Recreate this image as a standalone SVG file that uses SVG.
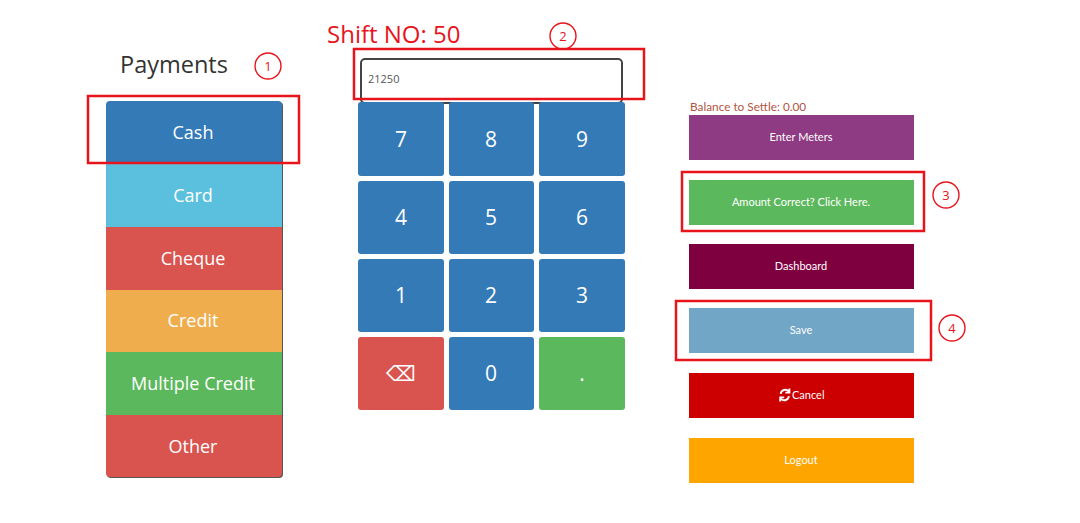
<svg xmlns="http://www.w3.org/2000/svg" width="1080" height="523" viewBox="0 0 1080 523">
<style>
.pay{font-family:"Open Sans","Noto Sans",sans-serif;font-size:18px;fill:#fff;text-anchor:middle}
.key{font-family:"Open Sans","Noto Sans",sans-serif;font-size:21px;fill:#fff;text-anchor:middle}
.btn{font-family:Lato,"Open Sans",sans-serif;font-size:11px;fill:#fff;text-anchor:middle}
.hl{fill:none;stroke:#e8141c;stroke-width:2.5}
.badge circle{fill:none;stroke:#e8141c;stroke-width:1.4}
.badge text{font-family:"Open Sans",sans-serif;font-size:13px;fill:#e8141c;text-anchor:middle}
.kp{rx:3;ry:3}
</style>
<defs>
<clipPath id="payclip"><rect x="106" y="101" width="176" height="376" rx="4"/></clipPath>
</defs>
<rect width="1080" height="523" fill="#fff"/>

<g id="title">
<text x="174" y="73" font-family="'Open Sans','Noto Sans',sans-serif" font-size="23.5" fill="#333" text-anchor="middle">Payments</text>
<text x="327" y="43" font-family="'Open Sans','Noto Sans',sans-serif" font-size="24" fill="#e8141c">Shift NO: 50</text>
</g>

<g id="payments">
<rect x="107" y="102" width="176" height="376" rx="4" fill="#555"/>
<g clip-path="url(#payclip)">
<g id="cash"><rect x="106" y="101" width="176" height="63" fill="#337ab7"/><text class="pay" x="193" y="139">Cash</text></g>
<g id="card"><rect x="106" y="164" width="176" height="63" fill="#5bc0de"/><text class="pay" x="193" y="202">Card</text></g>
<g id="cheque"><rect x="106" y="227" width="176" height="63" fill="#d9534f"/><text class="pay" x="193" y="265">Cheque</text></g>
<g id="credit"><rect x="106" y="290" width="176" height="62" fill="#f0ad4e"/><text class="pay" x="193" y="327">Credit</text></g>
<g id="multiple-credit"><rect x="106" y="352" width="176" height="63" fill="#5cb85c"/><text class="pay" x="193" y="390">Multiple Credit</text></g>
<g id="other"><rect x="106" y="415" width="176" height="62" fill="#d9534f"/><text class="pay" x="193" y="453">Other</text></g>
</g>
</g>

<g id="input">
<rect x="361" y="59" width="261" height="44" rx="4" fill="#fff" stroke="#444" stroke-width="2"/>
<text x="368" y="83" font-family="'Open Sans',sans-serif" font-size="11" fill="#555">21250</text>
</g>

<g id="keypad">
<g id="k7"><rect class="kp" x="358" y="102" width="86" height="74" fill="#337ab7"/><text class="key" x="401" y="147">7</text></g>
<g id="k8"><rect class="kp" x="449" y="102" width="85" height="74" fill="#337ab7"/><text class="key" x="491" y="147">8</text></g>
<g id="k9"><rect class="kp" x="539" y="102" width="86" height="74" fill="#337ab7"/><text class="key" x="582" y="147">9</text></g>
<g id="k4"><rect class="kp" x="358" y="181" width="86" height="73" fill="#337ab7"/><text class="key" x="401" y="225">4</text></g>
<g id="k5"><rect class="kp" x="449" y="181" width="85" height="73" fill="#337ab7"/><text class="key" x="491" y="225">5</text></g>
<g id="k6"><rect class="kp" x="539" y="181" width="86" height="73" fill="#337ab7"/><text class="key" x="582" y="225">6</text></g>
<g id="k1"><rect class="kp" x="358" y="259" width="86" height="73" fill="#337ab7"/><text class="key" x="401" y="303">1</text></g>
<g id="k2"><rect class="kp" x="449" y="259" width="85" height="73" fill="#337ab7"/><text class="key" x="491" y="303">2</text></g>
<g id="k3"><rect class="kp" x="539" y="259" width="86" height="73" fill="#337ab7"/><text class="key" x="582" y="303">3</text></g>
<g id="kback"><rect class="kp" x="358" y="337" width="86" height="73" fill="#d9534f"/><text class="key" x="401" y="381" font-family="'DejaVu Sans',sans-serif" font-size="20">⌫</text></g>
<g id="k0"><rect class="kp" x="449" y="337" width="85" height="73" fill="#337ab7"/><text class="key" x="491" y="381">0</text></g>
<g id="kdot"><rect class="kp" x="539" y="337" width="86" height="73" fill="#5cb85c"/><text class="key" x="582" y="381">.</text></g>
</g>

<g id="actions">
<text x="690" y="111" font-family="Lato,'Open Sans',sans-serif" font-size="11.8" fill="#b0553f">Balance to Settle: 0.00</text>
<g id="enter-meters"><rect x="689" y="115" width="225" height="45" fill="#8e3b83"/><text class="btn" x="801" y="141">Enter Meters</text></g>
<g id="amount-correct"><rect x="689" y="180" width="225" height="45" fill="#5cb85c"/><text class="btn" x="801" y="206">Amount Correct? Click Here.</text></g>
<g id="dashboard"><rect x="689" y="244" width="225" height="45" fill="#7f003f"/><text class="btn" x="801" y="270">Dashboard</text></g>
<g id="save"><rect x="689" y="308" width="225" height="45" fill="#72a6c6"/><text class="btn" x="801" y="334">Save</text></g>
<g id="cancel"><rect x="689" y="373" width="225" height="45" fill="#cc0000"/>
<path d="M780.7 393.8 A4.6 4.6 0 0 1 788.6 391.2 M789.4 388.6 V392.6 H785.4 M788.9 396.2 A4.6 4.6 0 0 1 781 398.8 M780.2 401.4 V397.4 H784.2" fill="none" stroke="#fff" stroke-width="1.9"/>
<text x="792" y="399" font-family="Lato,'Open Sans',sans-serif" font-size="11" fill="#fff">Cancel</text></g>
<g id="logout"><rect x="689" y="438" width="225" height="45" fill="#ffa500"/><text class="btn" x="801" y="464">Logout</text></g>
</g>

<g id="annotations">
<rect class="hl" x="88" y="96" width="211" height="67"/>
<rect class="hl" x="354" y="49" width="290" height="50"/>
<rect class="hl" x="682" y="172" width="242" height="59" stroke-width="1.5"/>
<rect class="hl" x="676" y="301" width="255" height="59" stroke-width="1.5"/>
<g class="badge"><circle cx="268" cy="66" r="13"/><text x="268" y="71">1</text></g>
<g class="badge"><circle cx="563" cy="36" r="13"/><text x="563" y="41">2</text></g>
<g class="badge"><circle cx="946" cy="195" r="13"/><text x="946" y="200">3</text></g>
<g class="badge"><circle cx="952" cy="328" r="13"/><text x="952" y="333">4</text></g>
</g>
</svg>
